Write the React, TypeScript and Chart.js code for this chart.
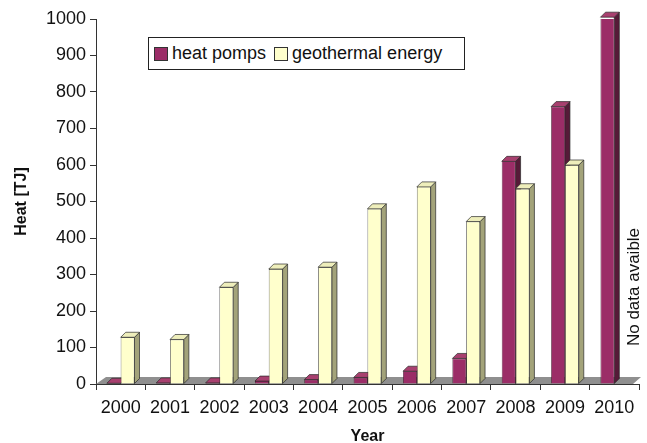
import React, { useEffect, useRef } from "react";
import { Chart, registerables } from "chart.js";

Chart.register(...registerables);

const years = ["2000", "2001", "2002", "2003", "2004", "2005", "2006", "2007", "2008", "2009", "2010"];
const heatPumps = [2, 3, 3, 8, 12, 18, 35, 70, 610, 760, 1005];
const geothermal: (number | null)[] = [128, 122, 265, 315, 320, 480, 540, 445, 535, 600, null];
const yTicks = [0, 100, 200, 300, 400, 500, 600, 700, 800, 900, 1000];

const PLUM = "#9b2d67";
const PLUM_SIDE = "#561a38";
const PLUM_TOP = "#a8406f";
const CREAM = "#ffffcc";
const CREAM_SIDE = "#a3a37a";
const CREAM_TOP = "#eeeebb";
const FONT = "'Liberation Sans', Arial, sans-serif";

const DX = 5;
const DY = 5;

const threeD = {
  id: "threeD",
  beforeDatasetsDraw(chart: any) {
    const ctx = chart.ctx;
    const { left, right, bottom } = chart.chartArea;
    ctx.save();
    ctx.fillStyle = "#8f8f8f";
    ctx.beginPath();
    ctx.moveTo(left, bottom);
    ctx.lineTo(left + 10, bottom - 7);
    ctx.lineTo(right + 2, bottom - 7);
    ctx.lineTo(right - 6, bottom);
    ctx.closePath();
    ctx.fill();
    ctx.restore();

    const sides = [PLUM_SIDE, CREAM_SIDE];
    const tops = [PLUM_TOP, CREAM_TOP];
    const n = chart.data.labels.length;
    for (let i = 0; i < n; i++) {
      chart.data.datasets.forEach((ds: any, di: number) => {
        const v = ds.data[i];
        if (v === null || v === undefined) return;
        const el = chart.getDatasetMeta(di).data[i];
        const { x, y, base, width } = el.getProps(["x", "y", "base", "width"], true);
        const l = x - width / 2;
        const r = x + width / 2;
        ctx.save();
        ctx.strokeStyle = "#2a2a2a";
        ctx.lineWidth = 0.7;
        ctx.fillStyle = sides[di];
        ctx.beginPath();
        ctx.moveTo(r, y);
        ctx.lineTo(r + DX, y - DY);
        ctx.lineTo(r + DX, base - DY);
        ctx.lineTo(r, base);
        ctx.closePath();
        ctx.fill();
        ctx.stroke();
        ctx.fillStyle = tops[di];
        ctx.beginPath();
        ctx.moveTo(l, y);
        ctx.lineTo(l + DX, y - DY);
        ctx.lineTo(r + DX, y - DY);
        ctx.lineTo(r, y);
        ctx.closePath();
        ctx.fill();
        ctx.stroke();
        ctx.restore();
      });
    }
  },
  afterDraw(chart: any) {
    const ctx = chart.ctx;
    const { right } = chart.chartArea;
    ctx.save();
    ctx.translate(right - 5, 287);
    ctx.rotate(-Math.PI / 2);
    ctx.fillStyle = "#111";
    ctx.font = `17px ${FONT}`;
    ctx.textAlign = "center";
    ctx.textBaseline = "middle";
    ctx.fillText("No data avaible", 0, 0);
    ctx.restore();
  },
};

export default function App() {
  const ref = useRef<HTMLCanvasElement>(null);
  useEffect(() => {
    if (!ref.current) return;
    const chart = new Chart(ref.current, {
      type: "bar",
      data: {
        labels: years,
        datasets: [
          {
            label: "heat pomps",
            data: heatPumps,
            backgroundColor: PLUM,
            borderColor: "#3a1025",
            borderWidth: 0.7,
            categoryPercentage: 0.56,
            barPercentage: 1,
          },
          {
            label: "geothermal energy",
            data: geothermal,
            backgroundColor: CREAM,
            borderColor: "#2a2a2a",
            borderWidth: 0.7,
            categoryPercentage: 0.56,
            barPercentage: 1,
          },
        ],
      },
      options: {
        responsive: false,
        animation: false,
        layout: { padding: { top: 19, right: 8, left: 0, bottom: 0 } },
        plugins: { legend: { display: false }, tooltip: { enabled: false } },
        scales: {
          x: {
            grid: { display: true, drawOnChartArea: false, drawTicks: true, tickLength: 6, color: "#333", offset: true },
            border: { display: true, color: "#333", width: 1 },
            ticks: { color: "#111", font: { family: FONT, size: 18 }, padding: 7, maxRotation: 0, autoSkip: false },
            title: { display: true, text: "Year", color: "#111", font: { family: FONT, size: 16, weight: "bold" }, padding: { top: 0, bottom: -3 } },
            afterFit: (s: any) => { s.height = 59; },
          },
          y: {
            min: 0,
            max: 1000,
            afterBuildTicks: (s: any) => { s.ticks = yTicks.map((v) => ({ value: v })); },
            grid: { display: true, drawOnChartArea: false, drawTicks: true, tickLength: 6, color: "#333" },
            border: { display: true, color: "#333", width: 1 },
            ticks: { color: "#111", font: { family: FONT, size: 18 }, padding: 4, callback: (v: any) => String(v) },
            title: { display: true, text: "Heat [TJ]", color: "#111", font: { family: FONT, size: 16, weight: "bold" }, padding: { top: 12, bottom: 0 } },
            afterFit: (s: any) => { s.width = 96; },
          },
        },
      },
      plugins: [threeD],
    });
    return () => chart.destroy();
  }, []);

  const sw = (c: string) => ({
    display: "inline-block",
    width: 14,
    height: 14,
    background: c,
    border: "1px solid #333",
    marginRight: 4,
    boxSizing: "border-box" as const,
  });

  return (
    <div style={{ position: "absolute", left: 0, top: 0, width: 647, height: 443, background: "#fff" }}>
      <canvas ref={ref} width={647} height={443} style={{ display: "block" }} />
      <div
        style={{
          position: "absolute",
          left: 148,
          top: 37,
          width: 317,
          height: 33,
          border: "1px solid #222",
          boxSizing: "border-box",
          background: "#fff",
          fontFamily: FONT,
          fontSize: 18,
          color: "#111",
          display: "flex",
          alignItems: "center",
          paddingLeft: 5,
          whiteSpace: "nowrap",
        }}
      >
        <span style={sw(PLUM)} />
        <span style={{ marginRight: 8 }}>heat pomps</span>
        <span style={sw(CREAM)} />
        <span>geothermal energy</span>
      </div>
    </div>
  );
}
